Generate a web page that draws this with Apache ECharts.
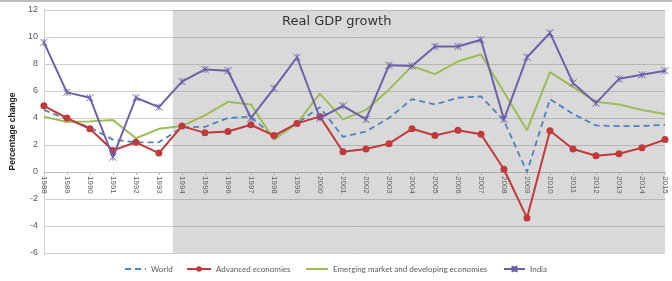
<!DOCTYPE html>
<html>
<head>
<meta charset="utf-8">
<script src="https://cdn.jsdelivr.net/npm/echarts@6/dist/echarts.min.js"></script>
<style>html,body{margin:0;padding:0;background:#fff;}#c{width:672px;height:281px;}</style>
</head>
<body>
<div id="c"></div>
<script>
var years = [1988,1989,1990,1991,1992,1993,1994,1995,1996,1997,1998,1999,2000,2001,2002,2003,2004,2005,2006,2007,2008,2009,2010,2011,2012,2013,2014,2015];
var world = [4.6,3.9,3.3,2.4,2.2,2.2,3.3,3.35,4.0,4.1,2.6,3.6,4.8,2.6,3.0,4.0,5.4,5.0,5.5,5.6,3.8,0.0,5.4,4.3,3.45,3.4,3.4,3.5];
var advanced = [4.9,4.0,3.2,1.6,2.2,1.4,3.4,2.9,3.0,3.5,2.7,3.6,4.1,1.5,1.7,2.1,3.2,2.7,3.1,2.8,0.2,-3.4,3.05,1.7,1.2,1.35,1.8,2.4];
var emerging = [4.1,3.7,3.75,3.85,2.5,3.2,3.4,4.2,5.2,5.0,2.4,3.6,5.8,3.9,4.6,6.1,7.85,7.25,8.2,8.7,5.9,3.1,7.4,6.3,5.2,5.0,4.6,4.3];
var india = [9.6,5.9,5.5,1.1,5.5,4.8,6.7,7.6,7.5,4.0,6.2,8.5,4.0,4.9,3.9,7.9,7.85,9.3,9.3,9.8,3.9,8.5,10.3,6.6,5.1,6.9,7.2,7.5];
var shadeStart = 1993.6, shadeEnd = 2015;

function pairs(v){ return years.map(function(y,i){ return [y, v[i]]; }); }

var chart = echarts.init(document.getElementById('c'));
var legFont = {fontSize: 8, color: '#595959', fontFamily: 'Lato, sans-serif'};
var crossPath = 'path://M0,0L10,10M10,0L0,10M5,0L5,10';
function leg(name, left, w, hideSym){
  var o = {data:[name], left:left, top:265, itemWidth:w, itemHeight:7, itemGap:0, textStyle:legFont, padding:0, selectedMode:false};
  if (hideSym) o.itemStyle = {opacity:0};
  return o;
}
chart.setOption({
  animation:false,
  title:{text:'Real GDP growth', left:282, top:15, padding:0,
    textStyle:{fontSize:13, fontWeight:'normal', color:'#333', fontFamily:'"DejaVu Sans", sans-serif'}},
  graphic:[{type:'rect', shape:{x:0,y:0,width:672,height:2}, style:{fill:'#bdbdbd'}}],
  grid:{left:43, right:7, top:10, bottom:28},
  legend:[leg('World',124,21,true), leg('Advanced economies',186,24,false), leg('Emerging market and developing economies',305,22,true), leg('India',503,21,false)],
  xAxis:{type:'value', min:1988, max:2015, interval:1, offset:-81,
    axisLine:{onZero:false, lineStyle:{color:'#bfbfbf'}},
    axisTick:{show:true, length:3, lineStyle:{color:'#bfbfbf'}},
    splitLine:{show:false},
    axisLabel:{rotate:-90, fontSize:8, color:'#595959', margin:4, formatter:function(v){return String(v);}, fontFamily:'"Liberation Sans", sans-serif'}},
  yAxis:{type:'value', min:-6, max:12, interval:2,
    name:'Percentage change', nameLocation:'middle', nameGap:24,
    nameTextStyle:{fontSize:8.5, fontWeight:'bold', color:'#222', fontFamily:'"Liberation Sans", sans-serif'},
    axisLine:{show:true, onZero:false, lineStyle:{color:'#d0d0d0'}},
    axisTick:{show:false},
    splitLine:{lineStyle:{color:'#cfcfcf'}},
    axisLabel:{fontSize:9, color:'#595959', margin:6, fontFamily:'"Liberation Sans", sans-serif'}},
  series:[
    {name:'World', type:'line', data:pairs(world), symbol:'none', z:3,
      lineStyle:{color:'#4f81bd', width:1.8, type:[6,4]}, itemStyle:{color:'#4f81bd'},
      markArea:{silent:true, itemStyle:{color:'rgba(120,120,120,0.28)'}, data:[[{xAxis:shadeStart},{xAxis:shadeEnd}]]}},
    {name:'Advanced economies', type:'line', data:pairs(advanced), symbol:'circle', symbolSize:7, z:4,
      lineStyle:{color:'#c0393b', width:2}, itemStyle:{color:'#c0393b'}},
    {name:'Emerging market and developing economies', type:'line', data:pairs(emerging), symbol:'none', z:3,
      lineStyle:{color:'#9bbb59', width:2}, itemStyle:{color:'#9bbb59'}},
    {name:'India', type:'line', data:pairs(india), symbol:crossPath, symbolSize:7, z:5,
      lineStyle:{color:'#6e5fa8', width:2}, itemStyle:{color:'#6e5fa8', borderColor:'#6e5fa8', borderWidth:1}}
  ]
});
</script>
</body>
</html>
